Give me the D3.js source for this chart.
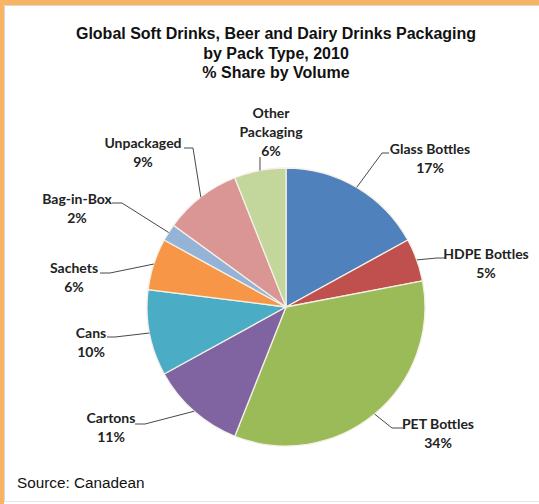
<!DOCTYPE html>
<html><head><meta charset="utf-8">
<script src="https://cdn.jsdelivr.net/npm/d3@7"></script>
<style>body{margin:0;background:#fff}svg{display:block}</style>
</head><body>
<svg id="c" width="539" height="504"></svg>
<script>
const categories = ["Glass Bottles","HDPE Bottles","PET Bottles","Cartons","Cans","Sachets","Bag-in-Box","Unpackaged","Other Packaging"];
const values = [17,5,34,11,10,6,2,9,6];
const labelLines = [["Glass Bottles","17%"],["HDPE Bottles","5%"],["PET Bottles","34%"],["Cartons","11%"],["Cans","10%"],["Sachets","6%"],["Bag-in-Box","2%"],["Unpackaged","9%"],["Other","Packaging","6%"]];
const colors = ["#4F81BD","#C0504D","#9BBB59","#8064A2","#4BACC6","#F79646","#95B3D7","#D99694","#C3D69B"];
const titleLines = ["Global Soft Drinks, Beer and Dairy Drinks Packaging","by Pack Type, 2010","% Share by Volume"];

// label layout: text centre x, first-line y, elbow point, end point at label
const labelLayout = [
  {x:430,y:149,elbow:[382,153],end:[389,153]},
  {x:486,y:254,elbow:[437,258],end:[445,258]},
  {x:438,y:424,elbow:[392,428],end:[403,428]},
  {x:111,y:418,elbow:[145,424],end:[135,424]},
  {x:91,y:333,elbow:[115,337],end:[107,337]},
  {x:74,y:268,elbow:[110,273],end:[100,273]},
  {x:77,y:199,elbow:[122,203],end:[112,203]},
  {x:143,y:143,elbow:[193,148],end:[184,148]},
  {x:271,y:113,elbow:[260,157],end:[260,157]}
];

const svg = d3.select("#c");
const W = 539, H = 504;
// frame
svg.append("rect").attr("x",0).attr("y",0).attr("width",W).attr("height",H).attr("fill","#fff");
svg.append("rect").attr("x",0).attr("y",0).attr("width",W).attr("height",5).attr("fill","#F8B463");
svg.append("rect").attr("x",0).attr("y",0).attr("width",4).attr("height",H).attr("fill","#F8B463");
svg.append("path").attr("d",`M4.5,${H-2.5}V5.5H${W}`).attr("fill","none").attr("stroke","#d8d8d8").attr("stroke-width",1);
svg.append("line").attr("x1",4).attr("x2",W).attr("y1",H-2.5).attr("y2",H-2.5).attr("stroke","#e4e4e4");

// title
svg.append("text").attr("x",276).attr("y",39).attr("text-anchor","middle")
  .attr("font-family","Liberation Sans, Arial, sans-serif").attr("font-weight","bold").attr("font-size",16).attr("fill","#111")
  .selectAll("tspan").data(titleLines).join("tspan").attr("x",276).attr("dy",(d,i)=>i?19.5:0).text(d=>d);

const cx = 286, cy = 307, r = 139;
const pie = d3.pie().sort(null).value(d=>d)(values);
const arc = d3.arc().innerRadius(0).outerRadius(r);
const g = svg.append("g").attr("transform",`translate(${cx},${cy})`);
g.selectAll("path").data(pie).join("path").attr("d",arc)
  .attr("fill",(d,i)=>colors[i]).attr("stroke","#f4f0e6").attr("stroke-width",1.3);

// leader lines
const lf = "Lato, 'Open Sans', sans-serif";
pie.forEach((d,i)=>{
  const a = (d.startAngle+d.endAngle)/2;
  const p0 = [cx + r*Math.sin(a), cy - r*Math.cos(a)];
  const L = labelLayout[i];
  svg.append("polyline").attr("points",[p0,L.elbow,L.end].map(p=>p.join(",")).join(" "))
    .attr("fill","none").attr("stroke","#333").attr("stroke-width",0.9);
  const t = svg.append("text").attr("text-anchor","middle").attr("font-family",lf)
    .attr("font-weight","bold").attr("font-size",14).attr("fill","#222");
  labelLines[i].forEach((s,j)=>{
    t.append("tspan").attr("x",L.x).attr("y",L.y + 5 + j*19).text(s);
  });
});

svg.append("text").attr("x",17).attr("y",488).attr("font-family","Liberation Sans, Arial, sans-serif")
  .attr("font-size",15.3).attr("fill","#111").text("Source: Canadean");
</script>
</body></html>
